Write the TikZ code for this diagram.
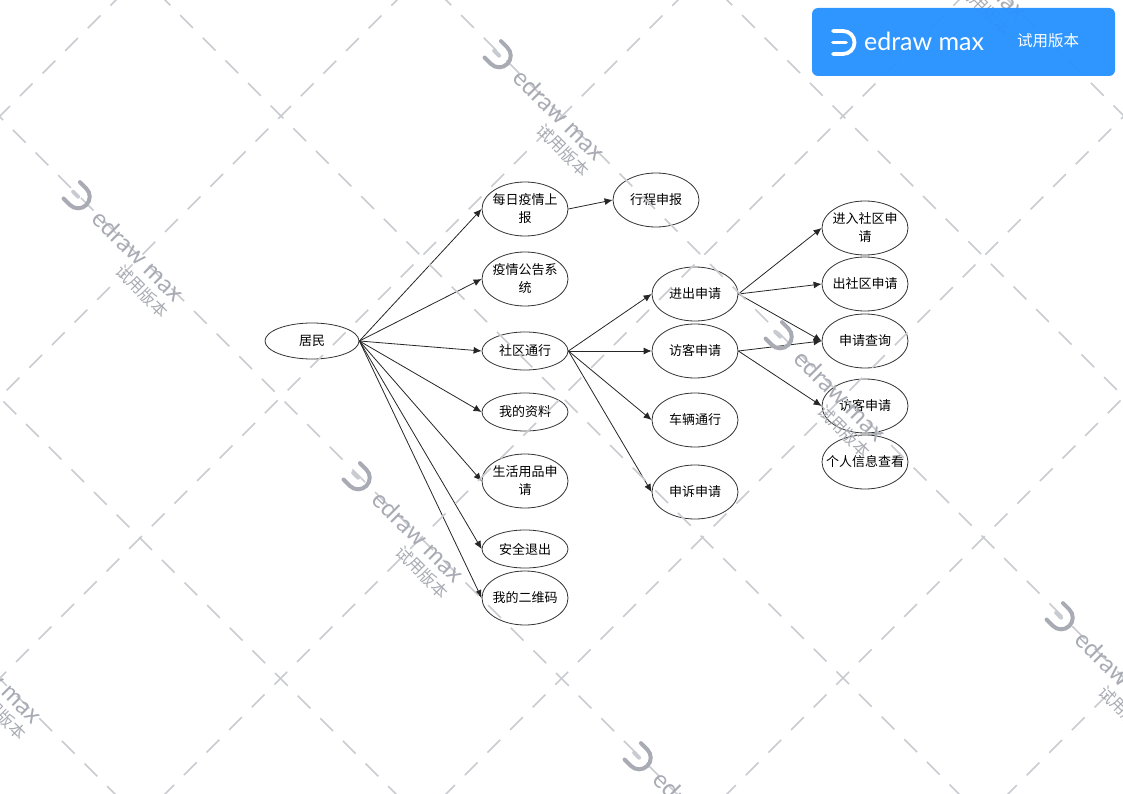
\documentclass[tikz,border=0pt]{standalone}
\usepackage{fontspec}
\usepackage{tikz}
\usetikzlibrary{shapes.geometric,arrows.meta}
\setmainfont{Noto Sans CJK SC}
\newfontfamily\logofont{Lato}
\definecolor{cc}{RGB}{51, 51, 51}
\definecolor{wmline}{RGB}{200, 203, 208}
\definecolor{wmtext}{RGB}{168, 171, 179}
\definecolor{banner}{RGB}{40, 146, 255}
\tikzset{
  bubble/.style={ellipse, draw=cc, line width=0.8pt, inner xsep=-10pt, inner ysep=-5pt, align=center,
    minimum width=86pt, minimum height=54pt, font=\fontsize{13}{18}\selectfont},
  flat/.style={bubble, minimum height=38pt},
  link/.style={line width=0.8pt, color=black!85, -{Latex[length=8pt,width=7pt]}},
  wmgrid/.style={line width=1.6pt, color=wmline, dash pattern=on 18pt off 14pt},
  wmlogo/.style={line width=4pt, color=wmtext, line cap=round},
  wmname/.style={color=wmtext, font=\logofont\fontsize{24.5}{26}\selectfont, inner sep=0pt},
  wmtrial/.style={color=wmtext, font=\fontsize{16.5}{18}\selectfont, inner sep=0pt}
}
% one watermark: everything turned by 45 degrees
\newcommand{\wmark}[3]{
  \begin{scope}[shift={(#2pt,#3pt)}, rotate=-45]
    \draw [wmlogo] (-7pt, 12.6pt) -- (2pt, 12.6pt) arc [start angle=90, end angle=-90, radius=11.6pt] -- (-7pt, -10.6pt);
    \draw [wmlogo, color=wmline] (-5pt, 1pt) -- (2pt, 1pt);
    \node (#1name) [wmname, rotate=-45] at (86.3pt, 2.1pt) {edraw max};
    \node (#1trial) [wmtrial, rotate=-45] at (114pt, -20.5pt) {试用版本};
  \end{scope}
}

\begin{document}
\begin{tikzpicture}
\useasboundingbox (0pt, 0pt) rectangle (1123pt, -794pt);
\clip (0pt, 0pt) rectangle (1123pt, -794pt);
\node (resident) [bubble, minimum width=94pt, minimum height=36pt] at (312pt, -341pt) {居民};
\node (daily) [bubble] at (525pt, -209pt) {每日疫情上\\报};
\node (trip) [bubble] at (656pt, -200pt) {行程申报};
\node (notice) [bubble] at (525pt, -279pt) {疫情公告系\\统};
\node (pass) [flat] at (525pt, -351pt) {社区通行};
\node (profile) [flat] at (525pt, -412pt) {我的资料};
\node (goods) [bubble] at (525pt, -481pt) {生活用品申\\请};
\node (logout) [flat] at (525pt, -549pt) {安全退出};
\node (qrcode) [bubble] at (525pt, -598pt) {我的二维码};
\node (access) [bubble] at (695pt, -294pt) {进出申请};
\node (visitor) [bubble] at (695pt, -351pt) {访客申请};
\node (vehicle) [bubble] at (695pt, -420pt) {车辆通行};
\node (appeal) [bubble] at (695pt, -492pt) {申诉申请};
\node (enter) [bubble] at (865pt, -228pt) {进入社区申\\请};
\node (leave) [bubble] at (865pt, -284pt) {出社区申请};
\node (query) [bubble] at (865pt, -341pt) {申请查询};
\node (guest) [bubble] at (865pt, -406pt) {访客申请};
\node (info) [bubble] at (865pt, -462pt) {个人信息查看};
\foreach \to in {daily, notice, pass, profile, goods, logout, qrcode}
  \draw [link] (resident.east) -- (\to.west);
\draw [link] (daily.east) -- (trip.west);
\foreach \to in {access, visitor, vehicle, appeal}
  \draw [link] (pass.east) -- (\to.west);
\foreach \to in {enter, leave, query}
  \draw [link] (access.east) -- (\to.west);
\draw [link] (visitor.east) -- (query.west);
\draw [link] (visitor.east) -- (guest.west);
% watermark lies over the diagram: value of x-y or x+y, then where a dash starts
\foreach \c/\s in {-679/16.7, -398/3.5, -117/13, 165/21.8, 446/8.6, 727/18, 1008/4.8}
  \draw [wmgrid] ({(\s-45.26)*1pt}, {(\c-\s+45.26)*1pt}) -- (1163pt, {(\c-1163)*1pt});
\foreach \c/\s in {116/19.9, 397/6.7, 678/16.1, 959/2.9, 1240/12.3, 1521/21.7, 1802/8.5}
  \draw [wmgrid] ({(\s-45.26)*1pt}, {(\s-45.26-\c)*1pt}) -- (1163pt, {(1163-\c)*1pt});
\wmark{a}{497}{-55}
\wmark{b}{76}{-196}
\wmark{c}{356}{-477}
\wmark{d}{778}{-336}
\wmark{e}{1059}{-617}
\wmark{f}{637}{-757}
\wmark{g}{-66}{-618}
\wmark{h}{919}{86}
% trial banner
\node (plate) [rectangle, rounded corners=6pt, fill=banner, fill opacity=0.96, inner sep=0pt, minimum width=303pt, minimum height=68pt] at (963.5pt, -42pt) {};
\draw [line width=3.8pt, color=white, line cap=round] (833pt, -31pt) -- (843pt, -31pt) arc [start angle=90, end angle=-90, radius=11.5pt] -- (833pt, -54pt);
\draw [line width=3.8pt, color=white, line cap=round] (833pt, -42.5pt) -- (846pt, -42.5pt);
\node (brand) [color=white, font=\logofont\fontsize{25}{25}\selectfont, inner sep=0pt] at (924pt, -41pt) {edraw max};
\node (trial) [color=white, font=\fontsize{15.5}{18}\selectfont, inner sep=0pt] at (1048pt, -41pt) {试用版本};
\end{tikzpicture}
\end{document}
